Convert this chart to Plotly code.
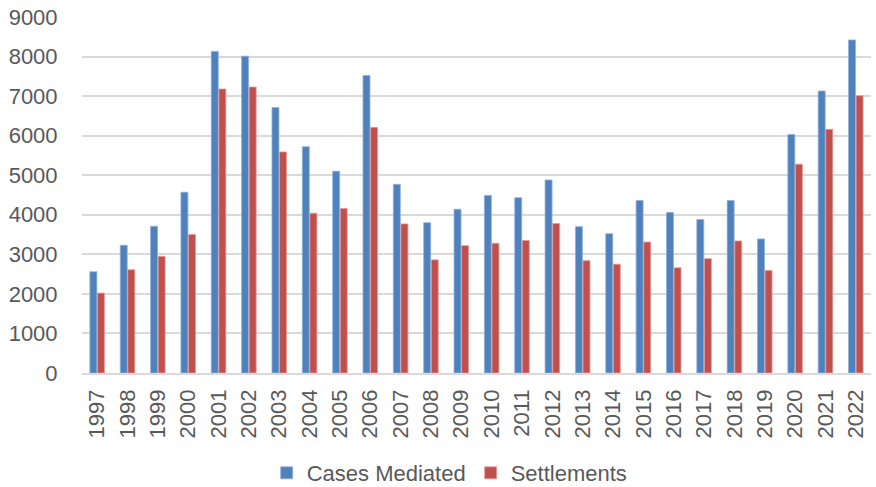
import plotly.graph_objects as go

years = [str(y) for y in range(1997, 2023)]
cases_mediated = [2560, 3230, 3710, 4570, 8130, 8010, 6710, 5720, 5100, 7520, 4770, 3800, 4140,
                  4490, 4430, 4880, 3700, 3520, 4360, 4060, 3880, 4360, 3390, 6030, 7130, 8420]
settlements = [2020, 2610, 2950, 3500, 7180, 7230, 5590, 4040, 4160, 6210, 3770, 2860, 3220,
               3280, 3350, 3780, 2840, 2750, 3310, 2660, 2890, 3340, 2590, 5280, 6160, 7010]
y_ticks = [0, 1000, 2000, 3000, 4000, 5000, 6000, 7000, 8000, 9000]

font = "Liberation Sans"
fig = go.Figure()
fig.add_trace(go.Bar(x=years, y=cases_mediated, name="Cases Mediated",
                     marker=dict(color="#4F81BD", line=dict(color="#8FB0DA", width=0.8))))
fig.add_trace(go.Bar(x=years, y=settlements, name="Settlements",
                     marker=dict(color="#C0504D", line=dict(color="#E39A98", width=0.8))))

fig.update_layout(
    width=876, height=487,
    margin=dict(l=82, r=5, t=17, b=114, autoexpand=False),
    plot_bgcolor="white", paper_bgcolor="white",
    barmode="group", bargap=0.5, bargroupgap=0.08,
    font=dict(family=font, size=22, color="#595959"),
    legend=dict(orientation="h", x=0.466, xanchor="center", y=-0.222, yanchor="top",
                font=dict(size=22, color="#595959"), itemwidth=30),
    xaxis=dict(tickangle=-90, showgrid=False, showline=True, linecolor="#d9d9d9", linewidth=1.5,
               ticks="outside", ticklen=6, tickcolor="rgba(0,0,0,0)", tickfont=dict(size=22),
               automargin=False),
    yaxis=dict(range=[0, 9000], tickvals=y_ticks, showgrid=True, gridcolor="#d9d9d9", gridwidth=1.5,
               zeroline=False, ticks="outside", ticklen=19, tickcolor="rgba(0,0,0,0)",
               tickfont=dict(size=22), automargin=False),
)
fig.write_html("out.html", config={"displayModeBar": False},
               post_script="document.body.style.margin='0px';document.body.style.overflow='hidden';")
